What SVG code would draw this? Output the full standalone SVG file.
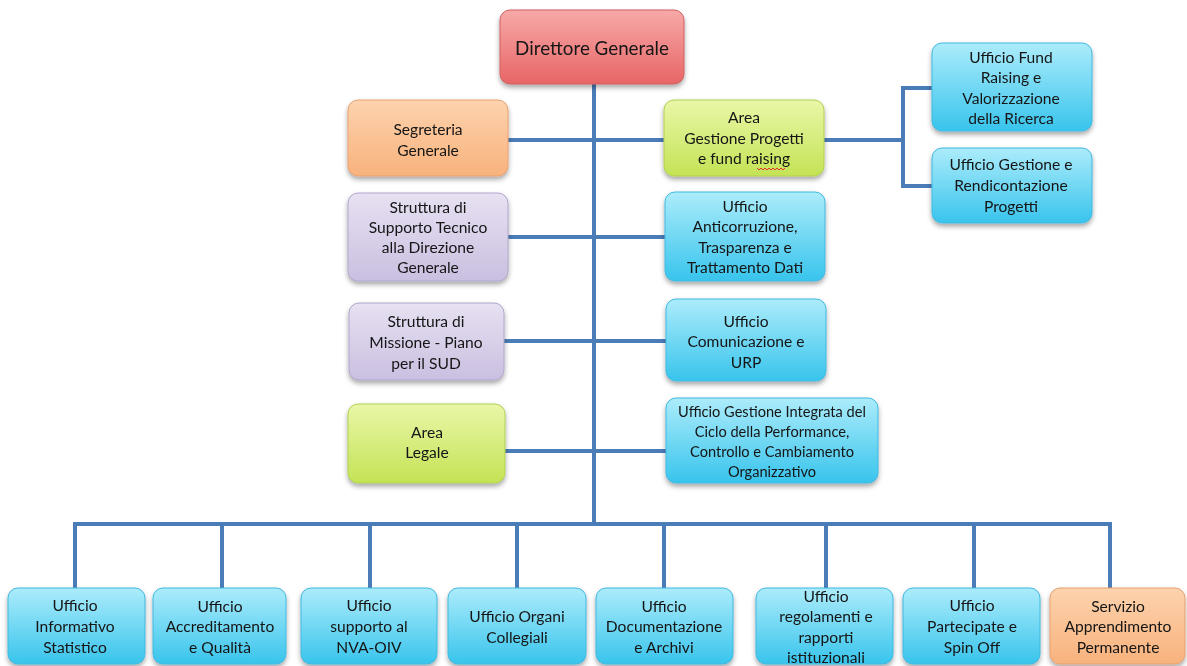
<svg xmlns="http://www.w3.org/2000/svg" width="1187" height="666" viewBox="0 0 1187 666">
<style>
.t{font-family:Lato,"Liberation Sans",sans-serif;font-size:15.6px;fill:#151515;text-anchor:middle}
.s{font-size:14.6px}
.big{font-size:18.8px}
.c{fill:none;stroke:#4a7cb8;stroke-width:4}
.box{filter:url(#sh)}
</style>
<defs>
<filter id="sh" x="-20%" y="-20%" width="140%" height="150%">
<feDropShadow dx="0" dy="3" stdDeviation="2.5" flood-color="#000" flood-opacity="0.35"/>
</filter>
<linearGradient id="gr" x1="0" y1="0" x2="0" y2="1"><stop offset="0" stop-color="#f7a9a9"/><stop offset="1" stop-color="#e86565"/></linearGradient>
<linearGradient id="go" x1="0" y1="0" x2="0" y2="1"><stop offset="0" stop-color="#fdd3ae"/><stop offset="1" stop-color="#f8b27c"/></linearGradient>
<linearGradient id="gg" x1="0" y1="0" x2="0" y2="1"><stop offset="0" stop-color="#e9f7a8"/><stop offset="1" stop-color="#c4e355"/></linearGradient>
<linearGradient id="gp" x1="0" y1="0" x2="0" y2="1"><stop offset="0" stop-color="#e7e1f2"/><stop offset="1" stop-color="#cabfe0"/></linearGradient>
<linearGradient id="gc" x1="0" y1="0" x2="0" y2="1"><stop offset="0" stop-color="#acecfb"/><stop offset="1" stop-color="#38c4ec"/></linearGradient>
</defs>
<rect width="1187" height="666" fill="#fff"/>
<g id="connectors">
<path class="c" d="M594 84V524"/>
<path class="c" d="M75 588V524H1110V588"/>
<path class="c" d="M222 524V588M370 524V588M517 524V588M664 524V588M826 524V588M974 524V588"/>
<path class="c" d="M508 140H664M508 237H665M503 341H666M505 451H666"/>
<path class="c" d="M824 140H903M932 88H903V186H932"/>
</g>
<g id="n-direttore" class="box"><rect x="500" y="10" width="184" height="74" rx="10" fill="url(#gr)" stroke="#d06060" stroke-width="1"/><text class="t big" x="592" y="55">Direttore Generale</text></g>
<g id="n-segreteria" class="box"><rect x="348" y="100" width="160" height="76" rx="10" fill="url(#go)" stroke="#e8a070" stroke-width="1"/><text class="t" x="428" y="135">Segreteria</text><text class="t" x="428" y="156">Generale</text></g>
<g id="n-areagestione" class="box"><rect x="664" y="100" width="160" height="76" rx="10" fill="url(#gg)" stroke="#b0d050" stroke-width="1"/><text class="t" x="744" y="123">Area</text><text class="t" x="744" y="144">Gestione Progetti</text><text class="t" x="744" y="164">e fund raising</text><path d="M757 168l2 2 2-2 2 2 2-2 2 2 2-2 2 2 2-2 2 2 2-2 2 2 2-2 2 2 2-2" fill="none" stroke="#e03030" stroke-width="1"/></g>
<g id="n-fund" class="box"><rect x="932" y="43" width="160" height="88" rx="10" fill="url(#gc)" stroke="#40b8e0" stroke-width="1"/><text class="t" x="1011" y="63">Ufficio Fund</text><text class="t" x="1011" y="83">Raising e</text><text class="t" x="1011" y="104">Valorizzazione</text><text class="t" x="1011" y="124">della Ricerca</text></g>
<g id="n-rendicontazione" class="box"><rect x="932" y="148" width="160" height="75" rx="10" fill="url(#gc)" stroke="#40b8e0" stroke-width="1"/><text class="t" x="1011" y="170">Ufficio Gestione e</text><text class="t" x="1011" y="191">Rendicontazione</text><text class="t" x="1011" y="212">Progetti</text></g>
<g id="n-supporto" class="box"><rect x="348" y="193" width="160" height="88" rx="10" fill="url(#gp)" stroke="#b0a6cc" stroke-width="1"/><text class="t" x="428" y="213">Struttura di</text><text class="t" x="428" y="233">Supporto Tecnico</text><text class="t" x="428" y="253">alla Direzione</text><text class="t" x="428" y="273">Generale</text></g>
<g id="n-anticorruzione" class="box"><rect x="665" y="192" width="160" height="89" rx="10" fill="url(#gc)" stroke="#40b8e0" stroke-width="1"/><text class="t" x="745" y="212">Ufficio</text><text class="t" x="745" y="232">Anticorruzione,</text><text class="t" x="745" y="253">Trasparenza e</text><text class="t" x="745" y="273">Trattamento Dati</text></g>
<g id="n-missione" class="box"><rect x="349" y="303" width="155" height="77" rx="10" fill="url(#gp)" stroke="#b0a6cc" stroke-width="1"/><text class="t" x="426" y="327">Struttura di</text><text class="t" x="426" y="348">Missione - Piano</text><text class="t" x="426" y="369">per il SUD</text></g>
<g id="n-comunicazione" class="box"><rect x="666" y="299" width="160" height="82" rx="10" fill="url(#gc)" stroke="#40b8e0" stroke-width="1"/><text class="t" x="746" y="327">Ufficio</text><text class="t" x="746" y="347">Comunicazione e</text><text class="t" x="746" y="368">URP</text></g>
<g id="n-legale" class="box"><rect x="348" y="404" width="157" height="79" rx="10" fill="url(#gg)" stroke="#b0d050" stroke-width="1"/><text class="t" x="427" y="438">Area</text><text class="t" x="427" y="458">Legale</text></g>
<g id="n-performance" class="box"><rect x="666" y="398" width="212" height="85" rx="10" fill="url(#gc)" stroke="#40b8e0" stroke-width="1"/><text class="t s" x="772" y="417">Ufficio Gestione Integrata del</text><text class="t s" x="772" y="437">Ciclo della Performance,</text><text class="t s" x="772" y="457">Controllo e Cambiamento</text><text class="t s" x="772" y="477">Organizzativo</text></g>
<g id="n-informativo" class="box"><rect x="8" y="588" width="137" height="76" rx="10" fill="url(#gc)" stroke="#40b8e0" stroke-width="1"/><text class="t" x="75" y="611">Ufficio</text><text class="t" x="75" y="632">Informativo</text><text class="t" x="75" y="653">Statistico</text></g>
<g id="n-accreditamento" class="box"><rect x="153" y="588" width="133" height="76" rx="10" fill="url(#gc)" stroke="#40b8e0" stroke-width="1"/><text class="t" x="220" y="612">Ufficio</text><text class="t" x="220" y="632">Accreditamento</text><text class="t" x="220" y="653">e Qualità</text></g>
<g id="n-nva" class="box"><rect x="301" y="588" width="136" height="76" rx="10" fill="url(#gc)" stroke="#40b8e0" stroke-width="1"/><text class="t" x="369" y="611">Ufficio</text><text class="t" x="369" y="632">supporto al</text><text class="t" x="369" y="653">NVA-OIV</text></g>
<g id="n-organi" class="box"><rect x="448" y="588" width="138" height="76" rx="10" fill="url(#gc)" stroke="#40b8e0" stroke-width="1"/><text class="t" x="517" y="622">Ufficio Organi</text><text class="t" x="517" y="643">Collegiali</text></g>
<g id="n-documentazione" class="box"><rect x="596" y="588" width="137" height="76" rx="10" fill="url(#gc)" stroke="#40b8e0" stroke-width="1"/><text class="t" x="664" y="612">Ufficio</text><text class="t" x="664" y="632">Documentazione</text><text class="t" x="664" y="653">e Archivi</text></g>
<g id="n-regolamenti" class="box"><rect x="756" y="588" width="137" height="76" rx="10" fill="url(#gc)" stroke="#40b8e0" stroke-width="1"/><text class="t" x="826" y="602">Ufficio</text><text class="t" x="826" y="622">regolamenti e</text><text class="t" x="826" y="643">rapporti</text><text class="t" x="826" y="663">istituzionali</text></g>
<g id="n-partecipate" class="box"><rect x="903" y="588" width="137" height="76" rx="10" fill="url(#gc)" stroke="#40b8e0" stroke-width="1"/><text class="t" x="972" y="611">Ufficio</text><text class="t" x="972" y="632">Partecipate e</text><text class="t" x="972" y="653">Spin Off</text></g>
<g id="n-apprendimento" class="box"><rect x="1050" y="588" width="135" height="76" rx="10" fill="url(#go)" stroke="#e8a070" stroke-width="1"/><text class="t" x="1118" y="612">Servizio</text><text class="t" x="1118" y="632">Apprendimento</text><text class="t" x="1118" y="653">Permanente</text></g>
</svg>
